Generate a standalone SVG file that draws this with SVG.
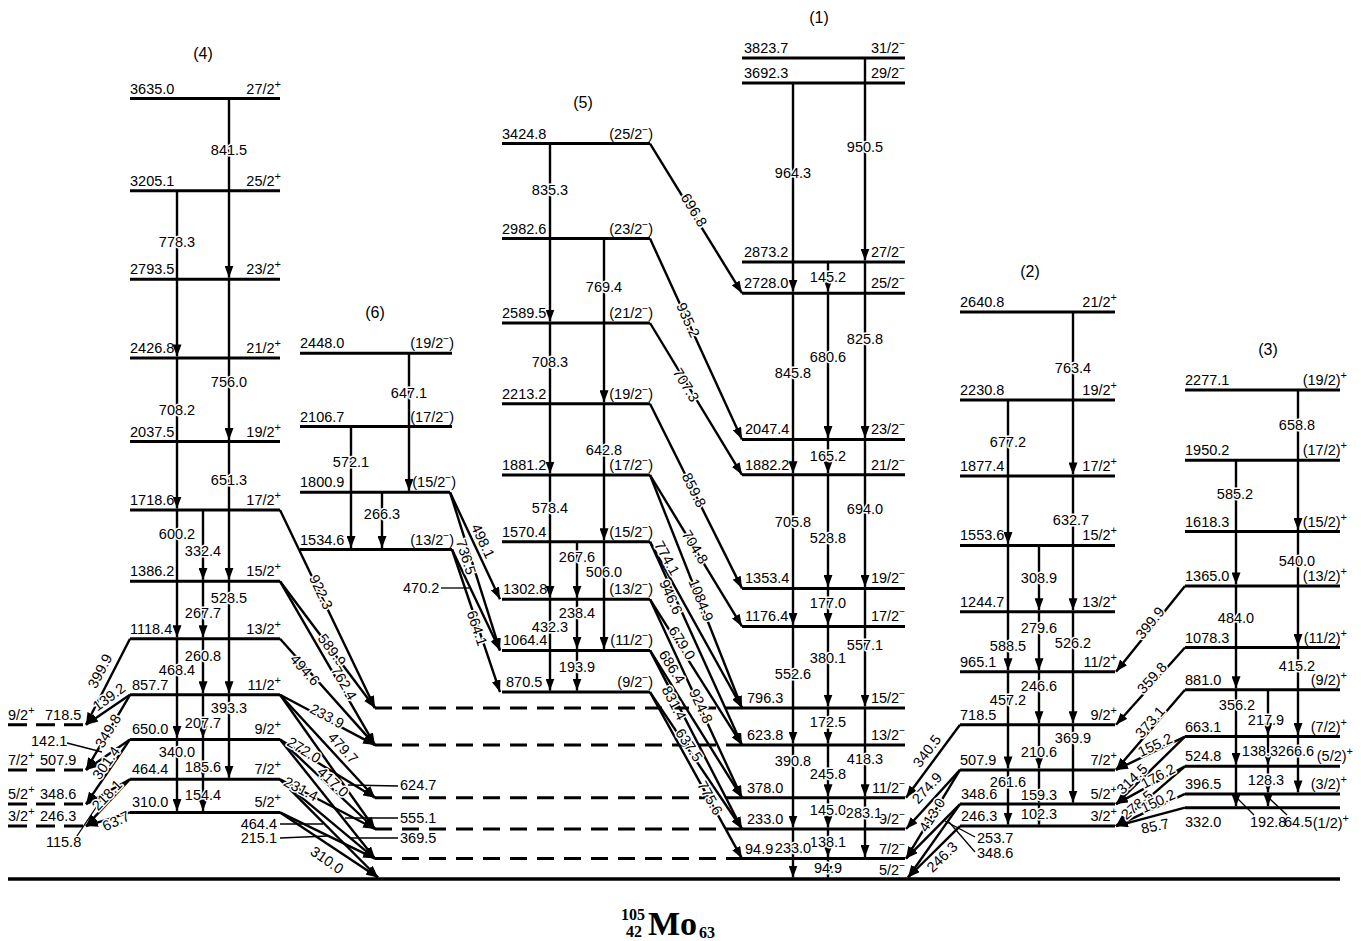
<svg xmlns="http://www.w3.org/2000/svg" width="1361" height="941" viewBox="0 0 1361 941">
<defs>
<marker id="ah" viewBox="0 0 12 9" refX="12" refY="4.5" markerWidth="12" markerHeight="9" markerUnits="userSpaceOnUse" orient="auto"><path d="M0,0 L12,4.5 L0,9 z" fill="#000"/></marker>
<style>
text{font-family:"Liberation Sans",Arial,sans-serif;font-size:14.5px;fill:#000}
.lv{stroke:#000;stroke-width:3;fill:none}
.ld{stroke:#000;stroke-width:3;stroke-dasharray:17 10;fill:none}
.ldl{stroke:#000;stroke-width:3;stroke-dasharray:19 9;fill:none}
.tr{stroke:#000;stroke-width:2.4;fill:none;marker-end:url(#ah)}
.ln{stroke:#000;stroke-width:1.3;fill:none}
.tl{text-anchor:middle;stroke:#fff;stroke-width:3;paint-order:stroke;stroke-linejoin:round}
.sp{text-anchor:end}
.hd{font-size:16px;text-anchor:middle}
.ttl{font-family:"Liberation Serif","Times New Roman",serif;font-weight:bold;font-size:16px}
.ttlb{font-family:"Liberation Serif","Times New Roman",serif;font-weight:bold;font-size:34px}
</style>
</defs>
<rect width="1361" height="941" fill="#fff"/>

<g id="ground"><line x1="8" y1="879" x2="1340" y2="879" stroke="#000" stroke-width="3.5"/></g>

<g id="headings">
<text class="hd" x="203" y="59">(4)</text>
<text class="hd" x="375" y="318">(6)</text>
<text class="hd" x="583" y="108">(5)</text>
<text class="hd" x="819" y="23">(1)</text>
<text class="hd" x="1030" y="277">(2)</text>
<text class="hd" x="1268" y="355">(3)</text>
</g>

<g id="band4">
<g id="b4-3635"><line class="lv" x1="130" y1="98.5" x2="280" y2="98.5"/><text x="130" y="93.5">3635.0</text><text class="sp" x="281" y="93.5">27/2<tspan dy="-6" font-size="11">+</tspan></text></g>
<g id="b4-3205"><line class="lv" x1="130" y1="190.8" x2="280" y2="190.8"/><text x="130" y="185.8">3205.1</text><text class="sp" x="281" y="185.8">25/2<tspan dy="-6" font-size="11">+</tspan></text></g>
<g id="b4-2793"><line class="lv" x1="130" y1="279.2" x2="280" y2="279.2"/><text x="130" y="274.2">2793.5</text><text class="sp" x="281" y="274.2">23/2<tspan dy="-6" font-size="11">+</tspan></text></g>
<g id="b4-2426"><line class="lv" x1="130" y1="357.9" x2="280" y2="357.9"/><text x="130" y="352.9">2426.8</text><text class="sp" x="281" y="352.9">21/2<tspan dy="-6" font-size="11">+</tspan></text></g>
<g id="b4-2037"><line class="lv" x1="130" y1="441.5" x2="280" y2="441.5"/><text x="130" y="436.5">2037.5</text><text class="sp" x="281" y="436.5">19/2<tspan dy="-6" font-size="11">+</tspan></text></g>
<g id="b4-1718"><line class="lv" x1="130" y1="510" x2="280" y2="510"/><text x="130" y="505">1718.6</text><text class="sp" x="281" y="505">17/2<tspan dy="-6" font-size="11">+</tspan></text></g>
<g id="b4-1386"><line class="lv" x1="130" y1="581.3" x2="280" y2="581.3"/><text x="130" y="576.3">1386.2</text><text class="sp" x="281" y="576.3">15/2<tspan dy="-6" font-size="11">+</tspan></text></g>
<g id="b4-1118"><line class="lv" x1="130" y1="638.8" x2="280" y2="638.8"/><text x="130" y="633.8">1118.4</text><text class="sp" x="281" y="633.8">13/2<tspan dy="-6" font-size="11">+</tspan></text></g>
<g id="b4-857"><line class="lv" x1="130" y1="694.8" x2="280" y2="694.8"/><text x="132" y="689.8">857.7</text><text class="sp" x="281" y="689.8">11/2<tspan dy="-6" font-size="11">+</tspan></text></g>
<g id="b4-650"><line class="lv" x1="130" y1="739.4" x2="280" y2="739.4"/><text x="132" y="734.4">650.0</text><text class="sp" x="281" y="734.4">9/2<tspan dy="-6" font-size="11">+</tspan></text></g>
<g id="b4-464"><line class="lv" x1="130" y1="779.3" x2="280" y2="779.3"/><text x="132" y="774.3">464.4</text><text class="sp" x="281" y="774.3">7/2<tspan dy="-6" font-size="11">+</tspan></text></g>
<g id="b4-310"><line class="lv" x1="130" y1="812.4" x2="280" y2="812.4"/><text x="132" y="807.4">310.0</text><text class="sp" x="281" y="807.4">5/2<tspan dy="-6" font-size="11">+</tspan></text></g>
</g>

<g id="left-dashed">
<g id="ld-718"><line class="ldl" x1="8" y1="724.7" x2="84" y2="724.7"/><text x="8" y="719.7">9/2<tspan dy="-6" font-size="11">+</tspan></text><text x="45" y="719.7">718.5</text></g>
<g id="ld-507"><line class="ldl" x1="8" y1="769.9" x2="84" y2="769.9"/><text x="8" y="764.9">7/2<tspan dy="-6" font-size="11">+</tspan></text><text x="40" y="764.9">507.9</text></g>
<g id="ld-348"><line class="ldl" x1="8" y1="804.1" x2="84" y2="804.1"/><text x="8" y="799.1">5/2<tspan dy="-6" font-size="11">+</tspan></text><text x="40" y="799.1">348.6</text></g>
<g id="ld-246"><line class="ldl" x1="8" y1="826.1" x2="84" y2="826.1"/><text x="8" y="821.1">3/2<tspan dy="-6" font-size="11">+</tspan></text><text x="40" y="821.1">246.3</text></g>
</g>

<g id="band6">
<g id="b6-2448"><line class="lv" x1="300" y1="353.3" x2="452" y2="353.3"/><text x="300" y="348.3">2448.0</text><text class="sp" x="454" y="348.3">(19/2<tspan dy="-6" font-size="10">−</tspan><tspan dy="6">)</tspan></text></g>
<g id="b6-2106"><line class="lv" x1="300" y1="426.6" x2="452" y2="426.6"/><text x="300" y="421.6">2106.7</text><text class="sp" x="454" y="421.6">(17/2<tspan dy="-6" font-size="10">−</tspan><tspan dy="6">)</tspan></text></g>
<g id="b6-1800"><line class="lv" x1="300" y1="492.3" x2="450" y2="492.3"/><text x="300" y="487.3">1800.9</text><text class="sp" x="456" y="487.3">(15/2<tspan dy="-6" font-size="10">−</tspan><tspan dy="6">)</tspan></text></g>
<g id="b6-1534"><line class="lv" x1="300" y1="549.5" x2="452" y2="549.5"/><text x="300" y="544.5">1534.6</text><text class="sp" x="454" y="544.5">(13/2<tspan dy="-6" font-size="10">−</tspan><tspan dy="6">)</tspan></text></g>
</g>

<g id="band5">
<g id="b5-3424"><line class="lv" x1="502" y1="143.6" x2="650" y2="143.6"/><text x="502" y="138.6">3424.8</text><text class="sp" x="653" y="138.6">(25/2<tspan dy="-6" font-size="10">−</tspan><tspan dy="6">)</tspan></text></g>
<g id="b5-2982"><line class="lv" x1="502" y1="238.6" x2="650" y2="238.6"/><text x="502" y="233.6">2982.6</text><text class="sp" x="653" y="233.6">(23/2<tspan dy="-6" font-size="10">−</tspan><tspan dy="6">)</tspan></text></g>
<g id="b5-2589"><line class="lv" x1="502" y1="323" x2="650" y2="323"/><text x="502" y="318">2589.5</text><text class="sp" x="653" y="318">(21/2<tspan dy="-6" font-size="10">−</tspan><tspan dy="6">)</tspan></text></g>
<g id="b5-2213"><line class="lv" x1="502" y1="403.8" x2="650" y2="403.8"/><text x="502" y="398.8">2213.2</text><text class="sp" x="653" y="398.8">(19/2<tspan dy="-6" font-size="10">−</tspan><tspan dy="6">)</tspan></text></g>
<g id="b5-1881"><line class="lv" x1="502" y1="475" x2="650" y2="475"/><text x="502" y="470">1881.2</text><text class="sp" x="653" y="470">(17/2<tspan dy="-6" font-size="10">−</tspan><tspan dy="6">)</tspan></text></g>
<g id="b5-1570"><line class="lv" x1="502" y1="541.8" x2="650" y2="541.8"/><text x="502" y="536.8">1570.4</text><text class="sp" x="653" y="536.8">(15/2<tspan dy="-6" font-size="10">−</tspan><tspan dy="6">)</tspan></text></g>
<g id="b5-1302"><line class="lv" x1="502" y1="599.3" x2="650" y2="599.3"/><text x="503" y="594.3">1302.8</text><text class="sp" x="653" y="594.3">(13/2<tspan dy="-6" font-size="10">−</tspan><tspan dy="6">)</tspan></text></g>
<g id="b5-1064"><line class="lv" x1="502" y1="650.4" x2="650" y2="650.4"/><text x="503" y="645.4">1064.4</text><text class="sp" x="653" y="645.4">(11/2<tspan dy="-6" font-size="10">−</tspan><tspan dy="6">)</tspan></text></g>
<g id="b5-870"><line class="lv" x1="502" y1="692.1" x2="650" y2="692.1"/><text x="506" y="687.1">870.5</text><text class="sp" x="653" y="687.1">(9/2<tspan dy="-6" font-size="10">−</tspan><tspan dy="6">)</tspan></text></g>
</g>

<g id="band1">
<g id="b1-3823"><line class="lv" x1="742" y1="58" x2="905" y2="58"/><text x="744" y="53">3823.7</text><text class="sp" x="905" y="53">31/2<tspan dy="-6" font-size="10">−</tspan></text></g>
<g id="b1-3692"><line class="lv" x1="742" y1="83" x2="905" y2="83"/><text x="744" y="78">3692.3</text><text class="sp" x="905" y="78">29/2<tspan dy="-6" font-size="10">−</tspan></text></g>
<g id="b1-2873"><line class="lv" x1="742" y1="262" x2="905" y2="262"/><text x="744" y="257">2873.2</text><text class="sp" x="905" y="257">27/2<tspan dy="-6" font-size="10">−</tspan></text></g>
<g id="b1-2728"><line class="lv" x1="742" y1="293.2" x2="905" y2="293.2"/><text x="744" y="288.2">2728.0</text><text class="sp" x="905" y="288.2">25/2<tspan dy="-6" font-size="10">−</tspan></text></g>
<g id="b1-2047"><line class="lv" x1="742" y1="439.4" x2="905" y2="439.4"/><text x="745" y="434.4">2047.4</text><text class="sp" x="905" y="434.4">23/2<tspan dy="-6" font-size="10">−</tspan></text></g>
<g id="b1-1882"><line class="lv" x1="742" y1="474.8" x2="905" y2="474.8"/><text x="745" y="469.8">1882.2</text><text class="sp" x="905" y="469.8">21/2<tspan dy="-6" font-size="10">−</tspan></text></g>
<g id="b1-1353"><line class="lv" x1="742" y1="588.4" x2="905" y2="588.4"/><text x="745" y="583.4">1353.4</text><text class="sp" x="905" y="583.4">19/2<tspan dy="-6" font-size="10">−</tspan></text></g>
<g id="b1-1176"><line class="lv" x1="742" y1="626.4" x2="905" y2="626.4"/><text x="745" y="621.4">1176.4</text><text class="sp" x="905" y="621.4">17/2<tspan dy="-6" font-size="10">−</tspan></text></g>
<g id="b1-796"><line class="ld" x1="375" y1="708" x2="742" y2="708"/><line class="lv" x1="742" y1="708" x2="905" y2="708"/><text x="747" y="703">796.3</text><text class="sp" x="905" y="703">15/2<tspan dy="-6" font-size="10">−</tspan></text></g>
<g id="b1-623"><line class="ld" x1="375" y1="745.1" x2="742" y2="745.1"/><line class="lv" x1="742" y1="745.1" x2="905" y2="745.1"/><text x="747" y="740.1">623.8</text><text class="sp" x="905" y="740.1">13/2<tspan dy="-6" font-size="10">−</tspan></text></g>
<g id="b1-378"><line class="ld" x1="375" y1="797.8" x2="742" y2="797.8"/><line class="lv" x1="742" y1="797.8" x2="905" y2="797.8"/><text x="747" y="792.8">378.0</text><text class="sp" x="905" y="792.8">11/2<tspan dy="-6" font-size="10">−</tspan></text></g>
<g id="b1-233"><line class="ld" x1="375" y1="829" x2="742" y2="829"/><line class="lv" x1="742" y1="829" x2="905" y2="829"/><text x="747" y="824">233.0</text><text class="sp" x="905" y="824">9/2<tspan dy="-6" font-size="10">−</tspan></text></g>
<g id="b1-94"><line class="ld" x1="375" y1="858.6" x2="742" y2="858.6"/><line class="lv" x1="742" y1="858.6" x2="905" y2="858.6"/><text x="745" y="854">94.9</text><text class="sp" x="905" y="853.6">7/2<tspan dy="-6" font-size="10">−</tspan></text></g>
<g id="b1-0"><text class="sp" x="905" y="875">5/2<tspan dy="-6" font-size="10">−</tspan></text></g>
</g>

<g id="band2">
<g id="b2-2640"><line class="lv" x1="960" y1="311.9" x2="1115" y2="311.9"/><text x="960" y="306.9">2640.8</text><text class="sp" x="1117" y="306.9">21/2<tspan dy="-6" font-size="11">+</tspan></text></g>
<g id="b2-2230"><line class="lv" x1="960" y1="400" x2="1115" y2="400"/><text x="960" y="395">2230.8</text><text class="sp" x="1117" y="395">19/2<tspan dy="-6" font-size="11">+</tspan></text></g>
<g id="b2-1877"><line class="lv" x1="960" y1="475.9" x2="1115" y2="475.9"/><text x="960" y="470.9">1877.4</text><text class="sp" x="1117" y="470.9">17/2<tspan dy="-6" font-size="11">+</tspan></text></g>
<g id="b2-1553"><line class="lv" x1="960" y1="545.4" x2="1115" y2="545.4"/><text x="960" y="540.4">1553.6</text><text class="sp" x="1117" y="540.4">15/2<tspan dy="-6" font-size="11">+</tspan></text></g>
<g id="b2-1244"><line class="lv" x1="960" y1="611.7" x2="1115" y2="611.7"/><text x="960" y="606.7">1244.7</text><text class="sp" x="1117" y="606.7">13/2<tspan dy="-6" font-size="11">+</tspan></text></g>
<g id="b2-965"><line class="lv" x1="960" y1="671.8" x2="1115" y2="671.8"/><text x="960" y="666.8">965.1</text><text class="sp" x="1117" y="666.8">11/2<tspan dy="-6" font-size="11">+</tspan></text></g>
<g id="b2-718"><line class="lv" x1="960" y1="724.7" x2="1115" y2="724.7"/><text x="960" y="719.7">718.5</text><text class="sp" x="1117" y="719.7">9/2<tspan dy="-6" font-size="11">+</tspan></text></g>
<g id="b2-507"><line class="lv" x1="960" y1="769.9" x2="1115" y2="769.9"/><text x="960" y="764.9">507.9</text><text class="sp" x="1117" y="764.9">7/2<tspan dy="-6" font-size="11">+</tspan></text></g>
<g id="b2-348"><line class="lv" x1="960" y1="804.1" x2="1115" y2="804.1"/><text x="961" y="799.1">348.6</text><text class="sp" x="1117" y="799.1">5/2<tspan dy="-6" font-size="11">+</tspan></text></g>
<g id="b2-246"><line class="lv" x1="960" y1="826.1" x2="1115" y2="826.1"/><text x="961" y="821.1">246.3</text><text class="sp" x="1117" y="821.1">3/2<tspan dy="-6" font-size="11">+</tspan></text></g>
</g>

<g id="band3">
<g id="b3-2277"><line class="lv" x1="1185" y1="390" x2="1340" y2="390"/><text x="1185" y="385">2277.1</text><text class="sp" x="1347" y="385">(19/2)<tspan dy="-6" font-size="11">+</tspan></text></g>
<g id="b3-1950"><line class="lv" x1="1185" y1="460.2" x2="1340" y2="460.2"/><text x="1185" y="455.2">1950.2</text><text class="sp" x="1347" y="455.2">(17/2)<tspan dy="-6" font-size="11">+</tspan></text></g>
<g id="b3-1618"><line class="lv" x1="1185" y1="531.5" x2="1340" y2="531.5"/><text x="1185" y="526.5">1618.3</text><text class="sp" x="1347" y="526.5">(15/2)<tspan dy="-6" font-size="11">+</tspan></text></g>
<g id="b3-1365"><line class="lv" x1="1185" y1="585.9" x2="1340" y2="585.9"/><text x="1185" y="580.9">1365.0</text><text class="sp" x="1347" y="580.9">(13/2)<tspan dy="-6" font-size="11">+</tspan></text></g>
<g id="b3-1078"><line class="lv" x1="1185" y1="647.5" x2="1340" y2="647.5"/><text x="1185" y="642.5">1078.3</text><text class="sp" x="1347" y="642.5">(11/2)<tspan dy="-6" font-size="11">+</tspan></text></g>
<g id="b3-881"><line class="lv" x1="1185" y1="689.8" x2="1340" y2="689.8"/><text x="1185" y="684.8">881.0</text><text class="sp" x="1347" y="684.8">(9/2)<tspan dy="-6" font-size="11">+</tspan></text></g>
<g id="b3-663"><line class="lv" x1="1185" y1="736.6" x2="1340" y2="736.6"/><text x="1185" y="731.6">663.1</text><text class="sp" x="1347" y="731.6">(7/2)<tspan dy="-6" font-size="11">+</tspan></text></g>
<g id="b3-524"><line class="lv" x1="1185" y1="766.3" x2="1340" y2="766.3"/><text x="1185" y="761.3">524.8</text><text class="sp" x="1353" y="761.3">(5/2)<tspan dy="-6" font-size="11">+</tspan></text></g>
<g id="b3-396"><line class="lv" x1="1185" y1="793.9" x2="1340" y2="793.9"/><text x="1185" y="788.9">396.5</text><text class="sp" x="1347" y="788.9">(3/2)<tspan dy="-6" font-size="11">+</tspan></text></g>
<g id="b3-332"><line class="lv" x1="1185" y1="807.7" x2="1340" y2="807.7"/><text x="1185" y="827">332.0</text><text class="sp" x="1349" y="828">(1/2)<tspan dy="-6" font-size="11">+</tspan></text></g>
</g>

<g id="connectors">
<line class="tr" x1="229" y1="98.5" x2="229" y2="277.7"/>
<line class="tr" x1="229" y1="279.2" x2="229" y2="440"/>
<line class="tr" x1="229" y1="441.5" x2="229" y2="579.8"/>
<line class="tr" x1="229" y1="581.3" x2="229" y2="693.3"/>
<line class="tr" x1="229" y1="694.8" x2="229" y2="777.8"/>
<line class="tr" x1="177" y1="190.8" x2="177" y2="356.4"/>
<line class="tr" x1="177" y1="357.9" x2="177" y2="508.5"/>
<line class="tr" x1="177" y1="510" x2="177" y2="637.3"/>
<line class="tr" x1="177" y1="638.8" x2="177" y2="737.9"/>
<line class="tr" x1="177" y1="739.4" x2="177" y2="810.9"/>
<line class="tr" x1="203" y1="510" x2="203" y2="579.8"/>
<line class="tr" x1="203" y1="581.3" x2="203" y2="637.3"/>
<line class="tr" x1="203" y1="638.8" x2="203" y2="693.3"/>
<line class="tr" x1="203" y1="694.8" x2="203" y2="737.9"/>
<line class="tr" x1="203" y1="739.4" x2="203" y2="777.8"/>
<line class="tr" x1="203" y1="779.3" x2="203" y2="810.9"/>
<line class="tr" x1="130" y1="638.8" x2="86" y2="724.7"/>
<line class="tr" x1="130" y1="694.8" x2="86" y2="724.7"/>
<line class="tr" x1="130" y1="694.8" x2="86" y2="769.9"/>
<line class="tr" x1="130" y1="739.4" x2="86" y2="769.9"/>
<line class="tr" x1="130" y1="739.4" x2="86" y2="804.1"/>
<line class="tr" x1="130" y1="779.3" x2="86" y2="804.1"/>
<line class="tr" x1="130" y1="779.3" x2="86" y2="826.1"/>
<line class="tr" x1="130" y1="812.4" x2="86" y2="826.1"/>
<line class="tr" x1="280" y1="510" x2="375" y2="708"/>
<line class="tr" x1="280" y1="581.3" x2="375" y2="708"/>
<line class="tr" x1="280" y1="581.3" x2="375" y2="745.1"/>
<line class="tr" x1="280" y1="638.8" x2="375" y2="745.1"/>
<line class="tr" x1="280" y1="694.8" x2="375" y2="745.1"/>
<line class="tr" x1="280" y1="694.8" x2="375" y2="797.8"/>
<line class="tr" x1="280" y1="694.8" x2="375" y2="829"/>
<line class="tr" x1="280" y1="739.4" x2="375" y2="797.8"/>
<line class="tr" x1="280" y1="739.4" x2="375" y2="829"/>
<line class="tr" x1="280" y1="739.4" x2="375" y2="858.6"/>
<line class="tr" x1="280" y1="779.3" x2="375" y2="829"/>
<line class="tr" x1="280" y1="779.3" x2="375" y2="858.6"/>
<line class="tr" x1="280" y1="779.3" x2="378" y2="877.5"/>
<line class="tr" x1="280" y1="812.4" x2="375" y2="858.6"/>
<line class="tr" x1="280" y1="812.4" x2="378" y2="877.5"/>
<line class="tr" x1="409" y1="353.3" x2="409" y2="490.8"/>
<line class="tr" x1="351" y1="426.6" x2="351" y2="548"/>
<line class="tr" x1="382" y1="492.3" x2="382" y2="548"/>
<line class="tr" x1="450" y1="492.3" x2="500" y2="599.3"/>
<line class="tr" x1="450" y1="492.3" x2="500" y2="650.4"/>
<line class="tr" x1="452" y1="549.5" x2="500" y2="650.4"/>
<line class="tr" x1="452" y1="549.5" x2="500" y2="692.1"/>
<line class="tr" x1="550" y1="143.6" x2="550" y2="321.5"/>
<line class="tr" x1="550" y1="323" x2="550" y2="473.5"/>
<line class="tr" x1="550" y1="475" x2="550" y2="597.8"/>
<line class="tr" x1="550" y1="599.3" x2="550" y2="690.6"/>
<line class="tr" x1="604" y1="238.6" x2="604" y2="402.3"/>
<line class="tr" x1="604" y1="403.8" x2="604" y2="540.3"/>
<line class="tr" x1="604" y1="541.8" x2="604" y2="648.9"/>
<line class="tr" x1="577" y1="541.8" x2="577" y2="597.8"/>
<line class="tr" x1="577" y1="599.3" x2="577" y2="648.9"/>
<line class="tr" x1="577" y1="650.4" x2="577" y2="690.6"/>
<line class="tr" x1="650" y1="143.6" x2="742" y2="293.2"/>
<line class="tr" x1="650" y1="238.6" x2="742" y2="439.4"/>
<line class="tr" x1="650" y1="323" x2="742" y2="474.8"/>
<line class="tr" x1="650" y1="403.8" x2="742" y2="588.4"/>
<line class="tr" x1="650" y1="475" x2="742" y2="626.4"/>
<line class="tr" x1="650" y1="475" x2="742" y2="708"/>
<line class="tr" x1="650" y1="541.8" x2="742" y2="708"/>
<line class="tr" x1="650" y1="541.8" x2="742" y2="745.1"/>
<line class="tr" x1="650" y1="599.3" x2="742" y2="745.1"/>
<line class="tr" x1="650" y1="599.3" x2="742" y2="797.8"/>
<line class="tr" x1="650" y1="650.4" x2="742" y2="797.8"/>
<line class="tr" x1="650" y1="650.4" x2="742" y2="829"/>
<line class="tr" x1="650" y1="692.1" x2="742" y2="829"/>
<line class="tr" x1="650" y1="692.1" x2="742" y2="858.6"/>
<line class="tr" x1="865" y1="58" x2="865" y2="260.5"/>
<line class="tr" x1="865" y1="262" x2="865" y2="437.9"/>
<line class="tr" x1="865" y1="439.4" x2="865" y2="586.9"/>
<line class="tr" x1="865" y1="588.4" x2="865" y2="706.5"/>
<line class="tr" x1="865" y1="708" x2="865" y2="796.3"/>
<line class="tr" x1="865" y1="797.8" x2="865" y2="857.1"/>
<line class="tr" x1="793" y1="83" x2="793" y2="291.7"/>
<line class="tr" x1="793" y1="293.2" x2="793" y2="473.3"/>
<line class="tr" x1="793" y1="474.8" x2="793" y2="624.9"/>
<line class="tr" x1="793" y1="626.4" x2="793" y2="743.6"/>
<line class="tr" x1="793" y1="745.1" x2="793" y2="827.5"/>
<line class="tr" x1="793" y1="829" x2="793" y2="877.5"/>
<line class="tr" x1="828" y1="262" x2="828" y2="291.7"/>
<line class="tr" x1="828" y1="293.2" x2="828" y2="437.9"/>
<line class="tr" x1="828" y1="439.4" x2="828" y2="473.3"/>
<line class="tr" x1="828" y1="474.8" x2="828" y2="586.9"/>
<line class="tr" x1="828" y1="588.4" x2="828" y2="624.9"/>
<line class="tr" x1="828" y1="626.4" x2="828" y2="706.5"/>
<line class="tr" x1="828" y1="708" x2="828" y2="743.6"/>
<line class="tr" x1="828" y1="745.1" x2="828" y2="796.3"/>
<line class="tr" x1="828" y1="797.8" x2="828" y2="827.5"/>
<line class="tr" x1="828" y1="829" x2="828" y2="857.1"/>
<line class="tr" x1="828" y1="858.6" x2="828" y2="877.5"/>
<line class="tr" x1="1073" y1="311.9" x2="1073" y2="474.4"/>
<line class="tr" x1="1073" y1="475.9" x2="1073" y2="610.2"/>
<line class="tr" x1="1073" y1="611.7" x2="1073" y2="723.2"/>
<line class="tr" x1="1073" y1="724.7" x2="1073" y2="802.6"/>
<line class="tr" x1="1008" y1="400" x2="1008" y2="543.9"/>
<line class="tr" x1="1008" y1="545.4" x2="1008" y2="670.3"/>
<line class="tr" x1="1008" y1="671.8" x2="1008" y2="768.4"/>
<line class="tr" x1="1008" y1="769.9" x2="1008" y2="824.6"/>
<line class="tr" x1="1039" y1="545.4" x2="1039" y2="610.2"/>
<line class="tr" x1="1039" y1="611.7" x2="1039" y2="670.3"/>
<line class="tr" x1="1039" y1="671.8" x2="1039" y2="723.2"/>
<line class="tr" x1="1039" y1="724.7" x2="1039" y2="768.4"/>
<line class="tr" x1="1039" y1="769.9" x2="1039" y2="802.6"/>
<line class="tr" x1="1039" y1="804.1" x2="1039" y2="824.6"/>
<line class="tr" x1="960" y1="724.7" x2="906" y2="797.8"/>
<line class="tr" x1="960" y1="769.9" x2="906" y2="829"/>
<line class="tr" x1="960" y1="769.9" x2="906" y2="858.6"/>
<line class="tr" x1="960" y1="804.1" x2="906" y2="858.6"/>
<line class="tr" x1="960" y1="804.1" x2="908" y2="877.5"/>
<line class="tr" x1="960" y1="826.1" x2="908" y2="877.5"/>
<line class="tr" x1="1298" y1="390" x2="1298" y2="530"/>
<line class="tr" x1="1298" y1="531.5" x2="1298" y2="646"/>
<line class="tr" x1="1298" y1="647.5" x2="1298" y2="735.1"/>
<line class="tr" x1="1298" y1="736.6" x2="1298" y2="792.4"/>
<line class="tr" x1="1236" y1="460.2" x2="1236" y2="584.4"/>
<line class="tr" x1="1236" y1="585.9" x2="1236" y2="688.3"/>
<line class="tr" x1="1236" y1="689.8" x2="1236" y2="764.8"/>
<line class="tr" x1="1236" y1="766.3" x2="1236" y2="806.2"/>
<line class="tr" x1="1268" y1="689.8" x2="1268" y2="735.1"/>
<line class="tr" x1="1268" y1="736.6" x2="1268" y2="764.8"/>
<line class="tr" x1="1268" y1="766.3" x2="1268" y2="792.4"/>
<line class="tr" x1="1268" y1="793.9" x2="1268" y2="806.2"/>
<line class="tr" x1="1185" y1="585.9" x2="1116" y2="671.8"/>
<line class="tr" x1="1185" y1="647.5" x2="1116" y2="724.7"/>
<line class="tr" x1="1185" y1="689.8" x2="1116" y2="769.9"/>
<line class="tr" x1="1185" y1="736.6" x2="1116" y2="769.9"/>
<line class="tr" x1="1185" y1="736.6" x2="1116" y2="804.1"/>
<line class="tr" x1="1185" y1="766.3" x2="1116" y2="804.1"/>
<line class="tr" x1="1185" y1="766.3" x2="1116" y2="826.1"/>
<line class="tr" x1="1185" y1="793.9" x2="1116" y2="826.1"/>
<line class="tr" x1="1185" y1="807.7" x2="1116" y2="826.1"/>

<line class="ln" x1="67" y1="743" x2="102" y2="752"/>
<line class="ln" x1="77" y1="836" x2="103" y2="797"/>
<line class="ln" x1="348" y1="785" x2="398" y2="786"/>
<line class="ln" x1="345" y1="818" x2="398" y2="818"/>
<line class="ln" x1="350" y1="838" x2="398" y2="838"/>
<line class="ln" x1="280" y1="824" x2="323" y2="824"/>
<line class="ln" x1="280" y1="838" x2="328" y2="836"/>
<line class="ln" x1="441" y1="588" x2="469" y2="588"/>
<line class="ln" x1="945" y1="821" x2="975" y2="837"/>
<line class="ln" x1="949" y1="822" x2="975" y2="852"/>
<line class="ln" x1="1238" y1="799" x2="1254" y2="815"/>
<line class="ln" x1="1270" y1="799" x2="1287" y2="815"/>

<text class="tl" x="229" y="155">841.5</text>
<text class="tl" x="177" y="247">778.3</text>
<text class="tl" x="229" y="387">756.0</text>
<text class="tl" x="177" y="415">708.2</text>
<text class="tl" x="229" y="485">651.3</text>
<text class="tl" x="177" y="539">600.2</text>
<text class="tl" x="203" y="556">332.4</text>
<text class="tl" x="229" y="603">528.5</text>
<text class="tl" x="203" y="618">267.7</text>
<text class="tl" x="203" y="661">260.8</text>
<text class="tl" x="177" y="675">468.4</text>
<text class="tl" x="229" y="713">393.3</text>
<text class="tl" x="203" y="728">207.7</text>
<text class="tl" x="177" y="757">340.0</text>
<text class="tl" x="203" y="772">185.6</text>
<text class="tl" x="203" y="800">154.4</text>
<text class="tl" transform="translate(100,671) rotate(-62.4)" y="5">399.9</text>
<text class="tl" transform="translate(109,697) rotate(-36)" y="5">139.2</text>
<text class="tl" transform="translate(108,731) rotate(-59)" y="5">349.8</text>
<text x="31" y="746">142.1</text>
<text class="tl" transform="translate(106,763) rotate(-55)" y="5">301.4</text>
<text class="tl" transform="translate(107,795) rotate(-46)" y="5">218.1</text>
<text x="46" y="847">115.8</text>
<text class="tl" transform="translate(116,821) rotate(-25)" y="5">63.7</text>
<text class="tl" transform="translate(321,592) rotate(64.4)" y="5">922.3</text>
<text class="tl" transform="translate(332,650) rotate(53.1)" y="5">589.9</text>
<text class="tl" transform="translate(344,683) rotate(59.9)" y="5">762.4</text>
<text class="tl" transform="translate(305,670) rotate(48.2)" y="5">494.6</text>
<text class="tl" transform="translate(327,716) rotate(27.9)" y="5">233.9</text>
<text class="tl" transform="translate(343,748) rotate(47.3)" y="5">479.7</text>
<text class="tl" transform="translate(304,750) rotate(31.6)" y="5">272.0</text>
<text class="tl" transform="translate(333,782) rotate(43.3)" y="5">417.0</text>
<text class="tl" transform="translate(301,789) rotate(27.6)" y="5">231.4</text>
<text class="tl" transform="translate(327,860) rotate(35)" y="5">310.0</text>
<text x="400" y="790">624.7</text>
<text x="400" y="823">555.1</text>
<text x="400" y="843">369.5</text>
<text class="sp" x="277" y="829">464.4</text>
<text class="sp" x="277" y="843">215.1</text>
<text class="tl" x="409" y="398">647.1</text>
<text class="tl" x="351" y="467">572.1</text>
<text class="tl" x="382" y="519">266.3</text>
<text class="tl" transform="translate(483,541) rotate(65)" y="5">498.1</text>
<text class="tl" transform="translate(466,557) rotate(72.5)" y="5">736.5</text>
<text x="403" y="593">470.2</text>
<text class="tl" transform="translate(477,628) rotate(71.4)" y="5">664.1</text>
<text class="tl" x="550" y="195">835.3</text>
<text class="tl" x="604" y="292">769.4</text>
<text class="tl" x="550" y="367">708.3</text>
<text class="tl" x="604" y="455">642.8</text>
<text class="tl" x="550" y="513">578.4</text>
<text class="tl" x="577" y="562">267.6</text>
<text class="tl" x="604" y="577">506.0</text>
<text class="tl" x="577" y="618">238.4</text>
<text class="tl" x="550" y="632">432.3</text>
<text class="tl" x="577" y="672">193.9</text>
<text class="tl" transform="translate(694,210) rotate(58.4)" y="5">696.8</text>
<text class="tl" transform="translate(688,320) rotate(65.4)" y="5">935.2</text>
<text class="tl" transform="translate(686,385) rotate(58.8)" y="5">707.3</text>
<text class="tl" transform="translate(694,490) rotate(63.5)" y="5">859.8</text>
<text class="tl" transform="translate(695,547) rotate(58.7)" y="5">704.8</text>
<text class="tl" transform="translate(701,600) rotate(68.5)" y="5">1084.9</text>
<text class="tl" transform="translate(667,558) rotate(61)" y="5">774.1</text>
<text class="tl" transform="translate(671,597) rotate(65.7)" y="5">946.6</text>
<text class="tl" transform="translate(682,643) rotate(57.8)" y="5">679.0</text>
<text class="tl" transform="translate(701,706) rotate(65.1)" y="5">924.8</text>
<text class="tl" transform="translate(672,667) rotate(58)" y="5">686.4</text>
<text class="tl" transform="translate(674,703) rotate(62.8)" y="5">831.4</text>
<text class="tl" transform="translate(689,745) rotate(56.1)" y="5">637.5</text>
<text class="tl" transform="translate(710,798) rotate(61.1)" y="5">775.6</text>
<text class="tl" x="865" y="152">950.5</text>
<text class="tl" x="793" y="178">964.3</text>
<text class="tl" x="828" y="282">145.2</text>
<text class="tl" x="865" y="344">825.8</text>
<text class="tl" x="828" y="362">680.6</text>
<text class="tl" x="793" y="378">845.8</text>
<text class="tl" x="828" y="461">165.2</text>
<text class="tl" x="865" y="514">694.0</text>
<text class="tl" x="793" y="527">705.8</text>
<text class="tl" x="828" y="543">528.8</text>
<text class="tl" x="828" y="608">177.0</text>
<text class="tl" x="865" y="650">557.1</text>
<text class="tl" x="828" y="663">380.1</text>
<text class="tl" x="793" y="679">552.6</text>
<text class="tl" x="828" y="727">172.5</text>
<text class="tl" x="865" y="764">418.3</text>
<text class="tl" x="793" y="766">390.8</text>
<text class="tl" x="828" y="779">245.8</text>
<text class="tl" x="828" y="815">145.0</text>
<text class="tl" x="864" y="818">283.1</text>
<text class="tl" x="828" y="847">138.1</text>
<text class="tl" x="793" y="853">233.0</text>
<text class="tl" x="828" y="873">94.9</text>
<text class="tl" x="1073" y="373">763.4</text>
<text class="tl" x="1008" y="447">677.2</text>
<text class="tl" x="1071" y="525">632.7</text>
<text class="tl" x="1039" y="583">308.9</text>
<text class="tl" x="1039" y="633">279.6</text>
<text class="tl" x="1008" y="651">588.5</text>
<text class="tl" x="1073" y="648">526.2</text>
<text class="tl" x="1039" y="691">246.6</text>
<text class="tl" x="1008" y="705">457.2</text>
<text class="tl" x="1073" y="743">369.9</text>
<text class="tl" x="1039" y="757">210.6</text>
<text class="tl" x="1008" y="787">261.6</text>
<text class="tl" x="1039" y="800">159.3</text>
<text class="tl" x="1039" y="819">102.3</text>
<text class="tl" transform="translate(927,751) rotate(-53)" y="5">340.5</text>
<text class="tl" transform="translate(927,788) rotate(-47)" y="5">274.9</text>
<text class="tl" transform="translate(932,815) rotate(-58)" y="5">413.0</text>
<text x="977" y="843">253.7</text>
<text x="977" y="858">348.6</text>
<text class="tl" transform="translate(942,857) rotate(-44)" y="5">246.3</text>
<text class="tl" x="1297" y="430">658.8</text>
<text class="tl" x="1235" y="499">585.2</text>
<text class="tl" x="1297" y="566">540.0</text>
<text class="tl" x="1236" y="623">484.0</text>
<text class="tl" x="1297" y="671">415.2</text>
<text class="tl" x="1237" y="710">356.2</text>
<text class="tl" x="1266" y="725">217.9</text>
<text class="tl" x="1260" y="756">138.3</text>
<text class="tl" x="1296" y="756">266.6</text>
<text class="tl" x="1266" y="785">128.3</text>
<text x="1250" y="827">192.8</text>
<text x="1284" y="827">64.5</text>
<text class="tl" transform="translate(1150,623) rotate(-51)" y="5">399.9</text>
<text class="tl" transform="translate(1152,678) rotate(-48)" y="5">359.8</text>
<text class="tl" transform="translate(1150,722) rotate(-49)" y="5">373.1</text>
<text class="tl" transform="translate(1155,745) rotate(-25)" y="5">155.2</text>
<text class="tl" transform="translate(1132,779) rotate(-44)" y="5">314.5</text>
<text class="tl" transform="translate(1158,776) rotate(-28)" y="5">176.2</text>
<text class="tl" transform="translate(1137,805) rotate(-40)" y="5">278.5</text>
<text class="tl" transform="translate(1158,801) rotate(-25)" y="5">150.2</text>
<text class="tl" transform="translate(1155,826) rotate(-12)" y="5">85.7</text>
</g>

<g id="title">
<text class="ttl" x="621" y="920">105</text>
<text class="ttl" x="626" y="937">42</text>
<text class="ttlb" x="648" y="935">Mo</text>
<text class="ttl" x="699" y="938">63</text>
</g>
</svg>
